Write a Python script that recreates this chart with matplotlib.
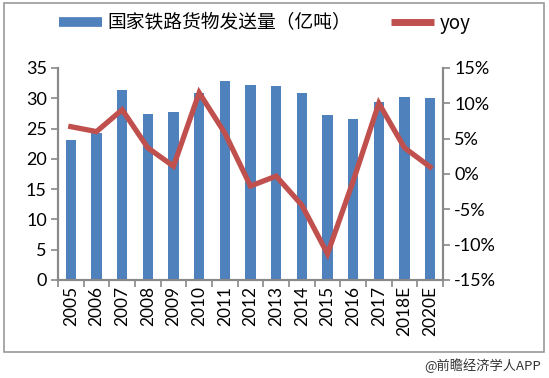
import matplotlib
matplotlib.use('Agg')
import matplotlib.pyplot as plt
from matplotlib.lines import Line2D
from matplotlib.patches import Rectangle
from matplotlib.ticker import FuncFormatter

plt.rcParams['font.family'] = ['Lato', 'Noto Sans CJK SC', 'DejaVu Sans']

# data
years = ['2005', '2006', '2007', '2008', '2009', '2010', '2011', '2012',
         '2013', '2014', '2015', '2016', '2017', '2018E', '2020E']
freight = [23.1, 24.3, 31.3, 27.4, 27.7, 30.9, 32.8, 32.2,
           32.1, 30.8, 27.2, 26.6, 29.4, 30.2, 30.0]
yoy = [6.7, 6.0, 9.1, 3.7, 1.1, 11.5, 5.8, -1.7,
       -0.3, -4.4, -11.3, -1.0, 10.0, 3.7, 1.0]

bar_color = '#4F81BD'
line_color = '#C0504D'
axis_color = '#898989'

fig = plt.figure(figsize=(5.49, 3.78), dpi=100)
ax = fig.add_axes([58 / 549, 1 - 280 / 378, (443 - 58) / 549, (280 - 68) / 378])
ax2 = ax.twinx()

x = list(range(len(years)))
ax.bar(x, freight, width=0.4, color=bar_color, zorder=2)
ax2.plot(x, yoy, color=line_color, linewidth=3.8, solid_joinstyle='miter', zorder=3)

ax.set_xlim(-0.5, len(years) - 0.5)
ax.set_ylim(0, 35)
ax.set_yticks(range(0, 36, 5))
ax2.set_ylim(-15, 15)
ax2.set_yticks(range(-15, 16, 5))
ax2.yaxis.set_major_formatter(FuncFormatter(lambda v, p: f'{int(v)}%'))

# category boundaries as tick marks, labels at centers
ax.set_xticks([i - 0.5 for i in range(len(years) + 1)])
ax.set_xticklabels([])
ax.set_xticks(x, minor=True)
ax.set_xticklabels(years, minor=True, rotation=90, fontsize=12.5)
ax.tick_params(axis='x', which='minor', length=0, pad=4)
ax.tick_params(axis='x', which='major', length=5, color=axis_color, width=1.2)

ax.tick_params(axis='y', labelsize=13, length=5, color=axis_color, width=1.2, pad=3)
ax2.tick_params(axis='y', labelsize=13, length=5, color=axis_color, width=1.2, pad=3)

for a in (ax, ax2):
    a.spines['top'].set_visible(False)
    for s in ('left', 'right', 'bottom'):
        a.spines[s].set_color(axis_color)
        a.spines[s].set_linewidth(1.5)

# legend across the top
handles = [Line2D([], [], color=bar_color, linewidth=7, solid_capstyle='butt'),
           Line2D([], [], color=line_color, linewidth=5, solid_capstyle='butt')]
fig.legend(handles, ['国家铁路货物发送量（亿吨）', 'yoy'], loc='center left',
           bbox_to_anchor=(42 / 549, 1 - 23 / 378), ncol=2, frameon=False,
           prop={'family': ['Noto Sans CJK SC', 'DejaVu Sans'], 'size': 13.5},
           handlelength=2.3, handletextpad=0.3, columnspacing=2.1)

# outer frame and source note
fig.patches.append(Rectangle((4 / 549, 1 - 352 / 378), 540 / 549, 349 / 378,
                             transform=fig.transFigure, fill=False,
                             edgecolor='#9a9a9a', linewidth=1.2))
fig.text(541 / 549, 1 - 366 / 378, '@前瞻经济学人APP', ha='right', va='center',
         fontsize=9.5, color='#333333', family=['Noto Sans CJK SC', 'DejaVu Sans'])

fig.savefig('out.png', dpi=100)
